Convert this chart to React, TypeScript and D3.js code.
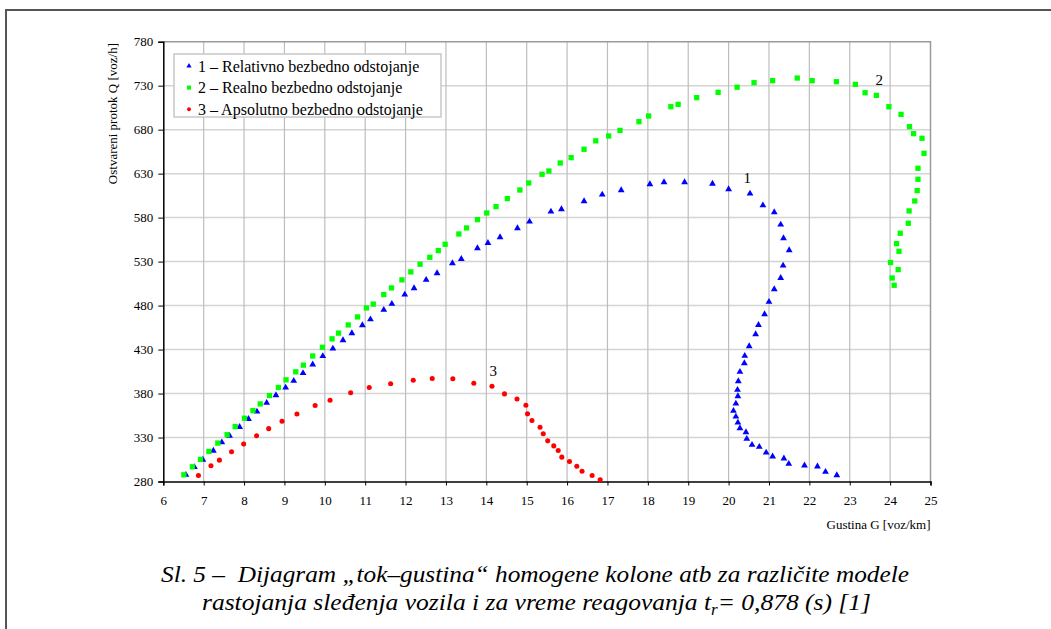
import React, { useRef, useEffect } from "react";
import * as d3 from "d3";

// gustina G [voz/km] i protok Q [voz/h] po modelu
const relG = [6.56, 6.77, 6.98, 7.24, 7.45, 7.64, 7.89, 8.11, 8.32, 8.56, 8.79, 9.03, 9.23, 9.46, 9.7, 9.95, 10.2, 10.45, 10.67, 10.93, 11.13, 11.46, 11.66, 11.98, 12.21, 12.51, 12.78, 13.16, 13.38, 13.78, 14.04, 14.34, 14.77, 15.07, 15.6, 15.86, 16.42, 16.87, 17.34, 18.05, 18.4, 18.91, 19.6, 20.0, 20.53, 20.85, 21.13, 21.29, 21.36, 21.5, 21.35, 21.29, 21.13, 21.0, 20.89, 20.74, 20.67, 20.51, 20.4, 20.39, 20.28, 20.24, 20.22, 20.23, 20.18, 20.12, 20.18, 20.23, 20.28, 20.43, 20.45, 20.58, 20.76, 20.93, 21.09, 21.37, 21.49, 21.88, 22.2, 22.4, 22.68];
const relQ = [287.6, 296.3, 304.7, 315.0, 324.5, 332.1, 342.0, 351.1, 359.5, 369.4, 378.1, 386.8, 394.4, 403.2, 413.1, 422.5, 431.1, 440.6, 448.6, 457.7, 464.3, 475.1, 481.9, 492.5, 499.7, 509.2, 516.7, 528.1, 533.0, 545.2, 551.2, 557.7, 567.9, 575.5, 586.8, 589.5, 598.6, 606.1, 611.1, 617.9, 620.2, 620.2, 618.6, 612.2, 607.3, 594.0, 586.1, 572.0, 556.5, 542.9, 525.5, 511.4, 498.6, 484.2, 470.2, 458.0, 447.4, 433.8, 422.8, 414.5, 404.6, 394.0, 384.2, 377.0, 368.6, 360.3, 353.8, 347.0, 340.6, 336.0, 328.5, 321.6, 319.4, 312.9, 308.4, 306.1, 300.0, 298.2, 297.0, 291.0, 287.2];

const realG = [6.51, 6.72, 6.92, 7.13, 7.35, 7.58, 7.78, 8.01, 8.22, 8.4, 8.63, 8.85, 9.04, 9.28, 9.47, 9.7, 9.94, 10.18, 10.34, 10.58, 10.81, 11.03, 11.2, 11.46, 11.65, 11.91, 12.13, 12.36, 12.6, 12.81, 12.98, 13.32, 13.51, 13.78, 14.01, 14.24, 14.52, 14.83, 15.05, 15.38, 15.55, 15.83, 16.1, 16.42, 16.71, 17.03, 17.31, 17.78, 18.02, 18.57, 18.75, 19.21, 19.74, 20.21, 20.63, 21.09, 21.7, 22.07, 22.67, 23.14, 23.38, 23.66, 23.97, 24.27, 24.48, 24.58, 24.79, 24.84, 24.69, 24.69, 24.67, 24.61, 24.47, 24.45, 24.25, 24.16, 24.22, 24.01, 24.2, 24.05, 24.1];
const realQ = [287.6, 296.7, 305.1, 314.2, 323.7, 333.2, 342.4, 351.9, 360.6, 368.2, 377.7, 386.9, 395.6, 404.7, 412.3, 422.7, 432.6, 442.2, 448.7, 458.0, 467.1, 477.3, 481.7, 492.5, 500.1, 509.2, 518.3, 527.0, 534.9, 542.5, 549.7, 561.4, 568.3, 577.7, 585.3, 592.5, 601.6, 611.4, 619.4, 629.3, 633.0, 642.1, 648.2, 657.7, 667.3, 672.8, 679.2, 689.1, 695.5, 706.1, 708.8, 716.4, 722.4, 728.3, 733.4, 735.7, 738.7, 735.7, 734.5, 731.5, 722.0, 719.0, 706.1, 697.4, 683.4, 675.5, 670.2, 653.1, 636.1, 623.6, 610.7, 598.9, 587.6, 573.6, 562.2, 550.4, 541.7, 528.9, 520.9, 511.4, 503.1];

const absG = [6.87, 7.18, 7.39, 7.69, 7.99, 8.31, 8.61, 8.94, 9.31, 9.76, 10.13, 10.64, 11.1, 11.63, 12.19, 12.66, 13.17, 13.69, 14.14, 14.45, 14.76, 14.98, 15.02, 15.13, 15.33, 15.41, 15.52, 15.67, 15.78, 15.87, 16.06, 16.24, 16.37, 16.62, 16.82];
const absQ = [286.8, 297.9, 304.3, 313.8, 322.6, 332.1, 340.1, 348.4, 356.8, 366.3, 372.4, 380.8, 386.8, 391.2, 395.2, 397.0, 396.7, 391.7, 388.3, 379.6, 373.9, 366.7, 356.9, 349.3, 341.7, 334.2, 326.2, 320.5, 315.2, 307.7, 302.7, 297.4, 291.7, 286.8, 281.9];

const xTicks = d3.range(6, 26, 1);
const yTicks = d3.range(280, 781, 50);

const legendLabels = [
  "1 – Relativno bezbedno odstojanje",
  "2 – Realno bezbedno odstojanje",
  "3 – Apsolutno bezbedno odstojanje",
];

// oznake krivih (u koordinatama dijagrama)
const curveNames = ["1", "2", "3"];
const curveNameG = [20.46, 23.73, 14.17];
const curveNameQ = [625, 736.5, 405.8];

type Series = { g: number[]; q: number[]; color: string; shape: d3.SymbolType; size: number };

const series: Series[] = [
  { g: relG, q: relQ, color: "#0000ff", shape: d3.symbolTriangle, size: 20 },
  { g: realG, q: realQ, color: "#00ff00", shape: d3.symbolSquare, size: 28 },
  { g: absG, q: absQ, color: "#ff0000", shape: d3.symbolCircle, size: 20 },
];

const SERIF = '"Liberation Serif", Tinos, "Times New Roman", Times, serif';

const App = () => {
  const svgRef = useRef<SVGSVGElement | null>(null);

  useEffect(() => {
    const W = 1051;
    const H = 629;
    const left = 163.3;
    const right = 930.5;
    const top = 41.7;
    const bottom = 481.5;

    const svg = d3.select(svgRef.current).attr("width", W).attr("height", H);
    svg.selectAll("*").remove();

    // okvir slike
    svg
      .append("path")
      .attr("d", `M6,${H} L6,10 L${W},10`)
      .attr("fill", "none")
      .attr("stroke", "#555")
      .attr("stroke-width", 2);

    const x = d3.scaleLinear().domain([6, 25]).range([left, right]);
    const y = d3.scaleLinear().domain([280, 780]).range([bottom, top]);

    // mreza
    svg
      .append("g")
      .selectAll("line")
      .data(yTicks.slice(1, -1))
      .enter()
      .append("line")
      .attr("x1", left)
      .attr("x2", right)
      .attr("y1", (d) => y(d))
      .attr("y2", (d) => y(d))
      .attr("stroke", "#d4d4d4")
      .attr("stroke-width", 1.5);

    svg
      .append("g")
      .selectAll("line")
      .data(xTicks.slice(1, -1))
      .enter()
      .append("line")
      .attr("x1", (d) => x(d))
      .attr("x2", (d) => x(d))
      .attr("y1", top)
      .attr("y2", bottom)
      .attr("stroke", "#bdbdbd")
      .attr("stroke-width", 1.2);

    // gornja i desna ivica
    svg
      .append("path")
      .attr("d", `M${left},${top} L${right},${top} L${right},${bottom}`)
      .attr("fill", "none")
      .attr("stroke", "#9a9a9a")
      .attr("stroke-width", 1.5);

    // ose
    const xAxis = svg
      .append("g")
      .attr("transform", `translate(0,${bottom})`)
      .call(d3.axisBottom(x).tickValues(xTicks).tickSize(4).tickPadding(10).tickFormat(d3.format("d")));
    const yAxis = svg
      .append("g")
      .attr("transform", `translate(${left},0)`)
      .call(d3.axisLeft(y).tickValues(yTicks).tickSize(5).tickPadding(5).tickFormat(d3.format("d")));

    [xAxis, yAxis].forEach((a) => {
      a.attr("font-family", SERIF).attr("font-size", 13);
      a.select(".domain").attr("stroke", "#000").attr("stroke-width", 1.5);
      a.selectAll(".tick line").attr("stroke", "#000").attr("stroke-width", 1);
      a.selectAll(".tick text").attr("fill", "#000");
    });

    // naslovi osa
    svg
      .append("text")
      .attr("transform", `translate(117,43) rotate(-90)`)
      .attr("text-anchor", "end")
      .attr("font-family", SERIF)
      .attr("font-size", 13)
      .text("Ostvareni protok Q [voz/h]");

    svg
      .append("text")
      .attr("x", right)
      .attr("y", 529)
      .attr("text-anchor", "end")
      .attr("font-family", SERIF)
      .attr("font-size", 13)
      .text("Gustina G [voz/km]");

    // tacke
    series.forEach((s) => {
      const sym = d3.symbol().type(s.shape).size(s.size);
      svg
        .append("g")
        .selectAll("path")
        .data(s.g.map((g, i) => [g, s.q[i]]))
        .enter()
        .append("path")
        .attr("d", sym)
        .attr("transform", (d) => `translate(${x(d[0])},${y(d[1])})`)
        .attr("fill", s.color);
    });

    // oznake krivih
    svg
      .append("g")
      .selectAll("text")
      .data(curveNames)
      .enter()
      .append("text")
      .attr("x", (d, i) => x(curveNameG[i]))
      .attr("y", (d, i) => y(curveNameQ[i]))
      .attr("dy", "0.35em")
      .attr("text-anchor", "middle")
      .attr("font-family", SERIF)
      .attr("font-size", 15)
      .text((d) => d);

    // legenda
    const lg = svg.append("g").attr("transform", "translate(174,54)");
    lg.append("rect")
      .attr("width", 267)
      .attr("height", 63)
      .attr("fill", "#fff")
      .attr("stroke", "#c8c8c8")
      .attr("stroke-width", 1.5);
    legendLabels.forEach((label, i) => {
      const row = lg.append("g").attr("transform", `translate(0,${12 + i * 21.6})`);
      row
        .append("path")
        .attr("d", d3.symbol().type(series[i].shape).size(series[i].size * 0.6)())
        .attr("transform", "translate(15,0)")
        .attr("fill", series[i].color);
      row
        .append("text")
        .attr("x", 24)
        .attr("dy", "0.35em")
        .attr("font-family", SERIF)
        .attr("font-size", 16)
        .text(label);
    });

    // potpis slike
    svg
      .append("text")
      .attr("x", 161)
      .attr("y", 582)
      .attr("textLength", 748)
      .attr("lengthAdjust", "spacingAndGlyphs")
      .attr("font-family", SERIF)
      .attr("font-style", "italic")
      .attr("font-size", 24)
      .style("white-space", "pre")
      .text("Sl. 5 –  Dijagram „tok–gustina“ homogene kolone atb za različite modele");

    const cap2 = svg
      .append("text")
      .attr("x", 202)
      .attr("y", 610)
      .attr("textLength", 669)
      .attr("lengthAdjust", "spacingAndGlyphs")
      .attr("font-family", SERIF)
      .attr("font-style", "italic")
      .attr("font-size", 24);
    cap2.append("tspan").text("rastojanja sleđenja vozila i za vreme reagovanja t");
    cap2.append("tspan").attr("dy", 5).attr("font-size", 16).text("r");
    cap2.append("tspan").attr("dy", -5).text("= 0,878 (s) [1]");

    return () => {
      svg.selectAll("*").remove();
    };
  }, []);

  return (
    <div style={{ position: "absolute", left: 0, top: 0 }}>
      <svg ref={svgRef} style={{ display: "block" }}></svg>
    </div>
  );
};

export default App;
